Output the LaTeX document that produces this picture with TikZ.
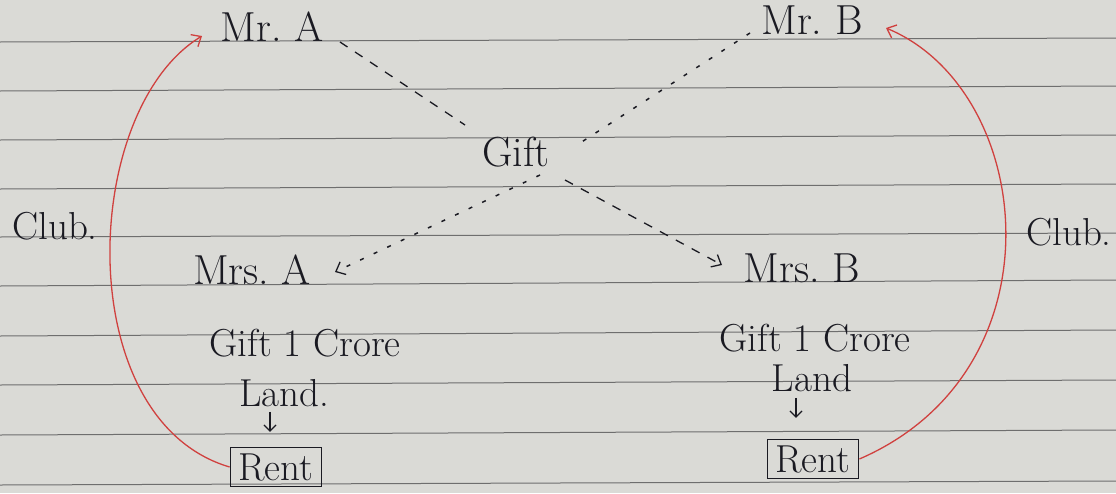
\documentclass[tikz,border=0pt]{standalone}
\usepackage{fontspec}
\usetikzlibrary{arrows.meta}
\definecolor{paper}{HTML}{DADAD6}
\definecolor{rule}{HTML}{6E6E6E}
\definecolor{ink}{HTML}{1A1A22}
\definecolor{redink}{HTML}{D0413F}
\tikzset{
  lbl/.style={inner sep=1pt, text=ink, font=\fontsize{42}{48}\selectfont},
  sml/.style={inner sep=1pt, text=ink, font=\fontsize{39}{44}\selectfont},
  dsh/.style={draw=ink, line width=1.3pt, dash pattern=on 9pt off 9pt},
  dts/.style={draw=ink, line width=1.5pt, dash pattern=on 4pt off 11pt},
  redline/.style={draw=redink, line width=1.3pt},
  tip/.style={-{Straight Barb[length=8pt,width=14pt,line width=1.3pt]}},
  rentbox/.style={draw=ink, line width=1.7pt, inner xsep=8pt, inner ysep=6pt, text=ink, font=\fontsize{39}{44}\selectfont},
  ruled/.style={draw=rule, line width=1pt}
}
\begin{document}
\begin{tikzpicture}[x=1pt,y=-1pt]
\useasboundingbox (0,0) rectangle (1116,493);
\fill[paper] (0,0) rectangle (1116,493);
% ruled lines
\foreach \y/\z in {42/38, 91/86, 140/135, 189/184, 237/233, 286/280, 336/330, 385/380, 435/430, 485/481}
  \draw[ruled] (0,\y) -- (1116,\z);

% main nodes
\node[lbl] (mra) at (272,27) {Mr.\ A};
\node[lbl] (mrb) at (812,20) {Mr.\ B};
\node[lbl] (gift) at (516,152) {Gift};
\node[lbl] (mrsa) at (252,270) {Mrs.\ A};
\node[lbl] (mrsb) at (802,268) {Mrs.\ B};

\node[sml] (ga) at (305,343) {Gift 1 Crore};
\node[sml] (la) at (284,393) {Land.};
\node[rentbox] (ra) at (276,467) {Rent};
\node[sml] (gb) at (815,338) {Gift 1 Crore};
\node[sml] (lb) at (812,378) {Land};
\node[rentbox] (rb) at (813,459) {Rent};

\node[sml] (cla) at (55,226) {Club.};
\node[sml] (clb) at (1069,232) {Club.};

% coordinates for the dashed strokes
\coordinate (a1) at (340,42);
\coordinate (a2) at (465,125);
\coordinate (b1) at (565,180);
\coordinate (b2) at (722,265);
\coordinate (c1) at (750,33);
\coordinate (c2) at (577,145);
\coordinate (d1) at (540,175);
\coordinate (d2) at (335,272);

\draw[dsh] (a1) -- (a2);
\draw[dsh, tip] (b1) -- (b2);
\draw[dts] (c1) -- (c2);
\draw[dts, tip] (d1) -- (d2);

% small down arrows
\draw[draw=ink, line width=1.3pt, -{Straight Barb[length=6pt,width=12pt,line width=1.3pt]}] (la.south) ++(-14,4) coordinate (da1) -- ++(0,20) coordinate (da2);
\draw[draw=ink, line width=1.3pt, -{Straight Barb[length=6pt,width=12pt,line width=1.3pt]}] (lb.south) ++(-16,5) coordinate (db1) -- ++(0,20) coordinate (db2);

% red curves
\draw[redline, tip] (ra.west) .. controls (70,420) and (80,110) .. (202,36);
\draw[redline, tip] (rb.east) .. controls (1065,370) and (1035,90) .. (886,28);
\end{tikzpicture}
\end{document}
